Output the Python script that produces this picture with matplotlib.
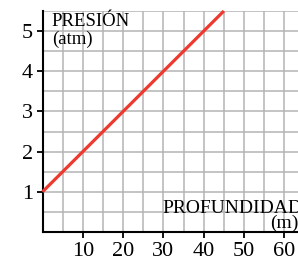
import numpy as np
import matplotlib.pyplot as plt
from matplotlib.ticker import MultipleLocator

# datos
profundidad = [0, 45]
presion = [1.0, 5.5]
x_ticks = [10, 20, 30, 40, 50, 60]
y_ticks = [1, 2, 3, 4, 5]

plt.rcParams["font.family"] = ["Liberation Serif", "DejaVu Serif"]

fig = plt.figure(figsize=(2.98, 2.57), dpi=100)
ax = fig.add_axes([42.5 / 298, 25 / 257, 1 - 42.5 / 298, 221 / 257])

ax.set_xlim(0, 63.4)
ax.set_ylim(0, 5.5)

ax.set_xticks(x_ticks)
ax.set_yticks(y_ticks)
ax.xaxis.set_minor_locator(MultipleLocator(5))
ax.yaxis.set_minor_locator(MultipleLocator(0.5))
ax.grid(which="both", color="#b4b4b4", linewidth=1.1)
ax.set_axisbelow(True)

ax.tick_params(which="major", direction="out", length=4, width=1.3,
               labelsize=16, pad=3, color="black")
ax.tick_params(which="minor", length=0)

for s in ("top", "right"):
    ax.spines[s].set_visible(False)
for s in ("left", "bottom"):
    ax.spines[s].set_linewidth(1.5)
    ax.spines[s].set_color("black")

ax.plot(profundidad, presion, color="#ee3a2e", linewidth=2.3, solid_capstyle="butt",
        clip_on=False, zorder=3)

ax.text(2.3, 5.45, "PRESIÓN\n(atm)", ha="left", va="top", fontsize=13.5,
        linespacing=1.05)
ax.text(64.6, 0.47, "PROFUNDIDAD", ha="right", va="baseline", fontsize=14,
        clip_on=False)
ax.text(63.6, 0.1, "(m)", ha="right", va="baseline", fontsize=14, clip_on=False)

fig.savefig("out.png", dpi=100)
